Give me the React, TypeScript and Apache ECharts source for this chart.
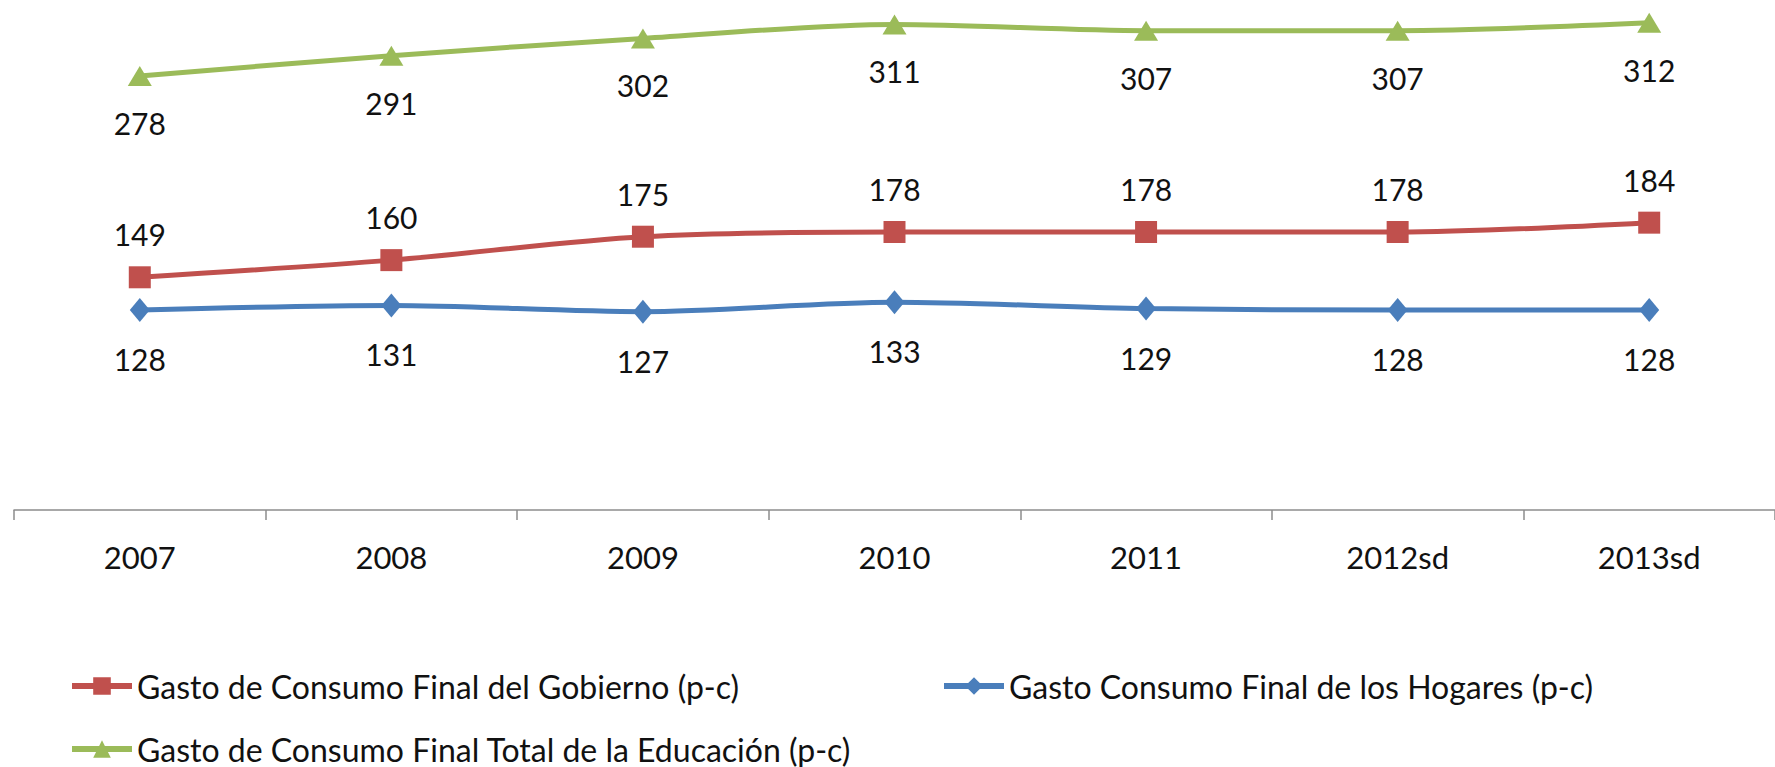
import React, { useEffect, useRef } from "react";
import * as echarts from "echarts";

const categories = ["2007", "2008", "2009", "2010", "2011", "2012sd", "2013sd"];
const gobierno = [149, 160, 175, 178, 178, 178, 184];
const hogares = [128, 131, 127, 133, 129, 128, 128];
const educacion = [278, 291, 302, 311, 307, 307, 312];

const nameGob = "Gasto de Consumo Final del Gobierno (p-c)";
const nameHog = "Gasto Consumo Final de los Hogares (p-c)";
const nameEdu = "Gasto de Consumo Final Total de la Educación (p-c)";

const FONT = "Lato, 'Open Sans', sans-serif";

export default function App() {
  const ref = useRef<HTMLDivElement>(null);
  useEffect(() => {
    if (!ref.current) return;
    const chart = echarts.init(ref.current, undefined, { renderer: "svg" });
    const labelStyle = (dy: number) => ({
      show: true,
      position: "inside" as const,
      offset: [0, dy],
      color: "#111",
      fontSize: 30,
      fontFamily: FONT,
    });
    const legendBase = {
      orient: "horizontal" as const,
      itemWidth: 60,
      itemHeight: 22,
      padding: 0,
      selectedMode: false,
      lineStyle: { width: 6 },
      textStyle: { fontSize: 32, fontFamily: FONT, color: "#111" },
    };
    chart.setOption({
      animation: false,
      backgroundColor: "#fff",
      grid: { left: 14, width: 1764, top: 1, height: 512, containLabel: false },
      legend: [
        { ...legendBase, data: [nameGob], left: 69, top: 670 },
        { ...legendBase, data: [nameHog], left: 941, top: 670 },
        { ...legendBase, data: [nameEdu], left: 69, top: 733 },
      ],
      xAxis: {
        type: "category",
        data: categories,
        boundaryGap: true,
        axisLine: { lineStyle: { color: "#8c8c8c", width: 1.5 } },
        axisTick: { show: true, length: 10, lineStyle: { color: "#8c8c8c", width: 1.5 } },
        axisLabel: { fontSize: 31, fontFamily: FONT, color: "#111", margin: 28 },
      },
      yAxis: {
        type: "value",
        min: -2,
        max: 326,
        show: false,
        splitLine: { show: false },
      },
      series: [
        {
          name: nameGob,
          type: "line",
          data: gobierno,
          smooth: 0.3,
          symbol: "rect",
          symbolSize: 22,
          itemStyle: { color: "#C0504D" },
          lineStyle: { color: "#C0504D", width: 5 },
          label: labelStyle(-43),
          z: 3,
        },
        {
          name: nameHog,
          type: "line",
          data: hogares,
          smooth: 0.3,
          symbol: "diamond",
          symbolSize: [20, 24],
          itemStyle: { color: "#4A7EBB" },
          lineStyle: { color: "#4A7EBB", width: 5 },
          label: labelStyle(49),
          z: 2,
        },
        {
          name: nameEdu,
          type: "line",
          data: educacion,
          smooth: 0.3,
          symbol: "triangle",
          symbolSize: [24, 20],
          itemStyle: { color: "#9BBB59" },
          lineStyle: { color: "#9BBB59", width: 5 },
          label: labelStyle(47),
          z: 4,
        },
      ],
    });
    return () => chart.dispose();
  }, []);
  return (
    <div
      ref={ref}
      style={{ position: "fixed", left: 0, top: 0, width: 1775, height: 767, background: "#fff" }}
    />
  );
}
